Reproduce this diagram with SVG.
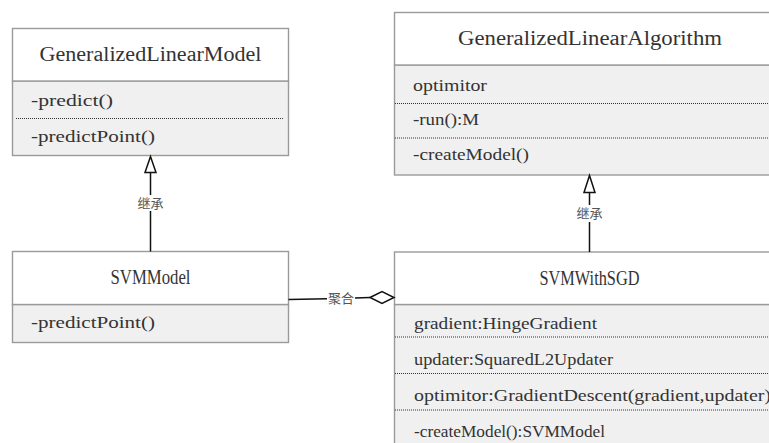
<svg xmlns="http://www.w3.org/2000/svg" width="769" height="443" viewBox="0 0 769 443">
<style>
.hd{fill:#ffffff;stroke:#9a9a9a;stroke-width:1.4}
.bd{fill:#f0f0f0;stroke:#9a9a9a;stroke-width:1.4}
.dot{stroke:#333;stroke-width:1;stroke-dasharray:1 1;fill:none}
.t{font-family:"Liberation Serif","Noto Sans CJK SC",serif;font-size:20px;fill:#333;text-anchor:middle}
.m{font-family:"Liberation Serif","Noto Sans CJK SC",serif;font-size:16px;fill:#333}
.lbl{font-family:"Noto Sans CJK SC",sans-serif;font-size:13px;fill:#555;text-anchor:middle}
.ln{stroke:#111;stroke-width:1.5;fill:none}
.tri{fill:#fff;stroke:#111;stroke-width:1.5}
</style>
<rect width="769" height="443" fill="#fff"/>
<g id="GeneralizedLinearModel">
<rect class="bd" x="12.5" y="81" width="276" height="74.5"/>
<rect class="hd" x="12.5" y="28.5" width="276" height="52.5"/>
<line class="dot" x1="16" y1="118.5" x2="284" y2="118.5"/>
<text class="t" x="150.5" y="61" textLength="222" lengthAdjust="spacingAndGlyphs">GeneralizedLinearModel</text>
<text class="m" x="31" y="106" textLength="82" lengthAdjust="spacingAndGlyphs">-predict()</text>
<text class="m" x="31" y="141.5" textLength="124" lengthAdjust="spacingAndGlyphs">-predictPoint()</text>
</g>
<g id="GeneralizedLinearAlgorithm">
<rect class="bd" x="394.5" y="65" width="392" height="110"/>
<rect class="hd" x="394.5" y="12.5" width="392" height="52.5"/>
<line class="dot" x1="395" y1="103.5" x2="769" y2="103.5"/>
<line class="dot" x1="395" y1="138" x2="769" y2="138"/>
<text class="t" x="590" y="45" textLength="264" lengthAdjust="spacingAndGlyphs">GeneralizedLinearAlgorithm</text>
<text class="m" x="413" y="90.5" textLength="74" lengthAdjust="spacingAndGlyphs">optimitor</text>
<text class="m" x="413" y="125" textLength="66" lengthAdjust="spacingAndGlyphs">-run():M</text>
<text class="m" x="413" y="160" textLength="116" lengthAdjust="spacingAndGlyphs">-createModel()</text>
</g>
<g id="SVMModel">
<rect class="bd" x="12.5" y="304.5" width="276" height="38"/>
<rect class="hd" x="12.5" y="251.5" width="276" height="53"/>
<text class="t" x="150.5" y="284" textLength="80" lengthAdjust="spacingAndGlyphs">SVMModel</text>
<text class="m" x="31" y="328" textLength="124" lengthAdjust="spacingAndGlyphs">-predictPoint()</text>
</g>
<g id="SVMWithSGD">
<rect class="bd" x="394.5" y="304.5" width="392" height="150"/>
<rect class="hd" x="394.5" y="252" width="392" height="52.5"/>
<line class="dot" x1="395" y1="337" x2="769" y2="337"/>
<line class="dot" x1="395" y1="373.5" x2="769" y2="373.5"/>
<line class="dot" x1="395" y1="410" x2="769" y2="410"/>
<text class="t" x="589.5" y="285" textLength="100" lengthAdjust="spacingAndGlyphs">SVMWithSGD</text>
<text class="m" x="414" y="328.5" textLength="183" lengthAdjust="spacingAndGlyphs">gradient:HingeGradient</text>
<text class="m" x="414" y="364.5" textLength="199" lengthAdjust="spacingAndGlyphs">updater:SquaredL2Updater</text>
<text class="m" x="414" y="401" textLength="357" lengthAdjust="spacingAndGlyphs">optimitor:GradientDescent(gradient,updater)</text>
<text class="m" x="414" y="437" textLength="191" lengthAdjust="spacingAndGlyphs">-createModel():SVMModel</text>
</g>
<g id="connectors">
<line class="ln" x1="150.5" y1="172" x2="150.5" y2="195"/>
<line class="ln" x1="150.5" y1="211" x2="150.5" y2="251.5"/>
<polygon class="tri" points="150.5,156.5 145,172.5 156,172.5"/>
<text class="lbl" x="150.5" y="208">继承</text>
<line class="ln" x1="589.5" y1="192" x2="589.5" y2="205"/>
<line class="ln" x1="589.5" y1="222" x2="589.5" y2="252"/>
<polygon class="tri" points="589.5,175.5 584,192.5 595,192.5"/>
<text class="lbl" x="589.5" y="218">继承</text>
<line class="ln" x1="288.5" y1="299.5" x2="327" y2="298.8"/>
<line class="ln" x1="355" y1="298" x2="370" y2="297.5"/>
<polygon class="tri" points="370,297.5 382,291.5 394,297.5 382,303.5"/>
<text class="lbl" x="341" y="302.5">聚合</text>
</g>
</svg>
